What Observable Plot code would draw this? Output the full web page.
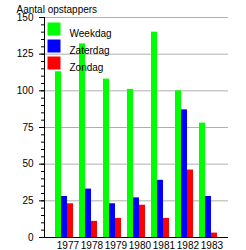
<!DOCTYPE html>
<html>
<head>
<meta charset="utf-8">
<script src="https://cdn.jsdelivr.net/npm/d3@7"></script>
<script src="https://cdn.jsdelivr.net/npm/@observablehq/plot@0.6"></script>
<style>
  body { margin: 0; background: white; }
</style>
</head>
<body>
<div id="chart"></div>
<script>
const years = ["1977", "1978", "1979", "1980", "1981", "1982", "1983"];
const series = ["Weekdag", "Zaterdag", "Zondag"];
const colors = ["#00ff00", "#0000ff", "#ff0000"];
const weekdag = [113, 132, 108, 101, 140, 100, 78];
const zaterdag = [28, 33, 23, 27, 39, 87, 28];
const zondag = [23, 11, 13, 22, 13, 46, 3];
const yTicks = [0, 25, 50, 75, 100, 125, 150];
const yMinorTicks = d3.range(0, 151, 5);
const title = "Aantal opstappers";

const values = [weekdag, zaterdag, zondag];
const rows = [];
years.forEach((yr, i) => series.forEach((s, j) => rows.push({year: yr, series: s, value: values[j][i]})));

// 4 slots per year (3 bars + gap); the last gap is cut off
const xDomain = years.flatMap(yr => [...series.map(s => yr + "|" + s), yr + "|"]).slice(0, -1);

const chart = Plot.plot({
  width: 246,
  height: 250,
  marginLeft: 44,
  marginRight: 18,
  marginTop: 17,
  marginBottom: 13,
  style: {fontFamily: "'Liberation Sans', Arial, sans-serif", fontSize: "10px", background: "white", color: "black"},
  x: {type: "band", domain: xDomain, padding: 0, insetLeft: 1, insetRight: 2, axis: null},
  y: {domain: [0, 150], axis: null},
  color: {domain: series, range: colors},
  marks: [
    Plot.gridY(yTicks.slice(1), {stroke: "#b0b0b0", strokeOpacity: 1}),
    Plot.barY(rows, {x: d => d.year + "|" + d.series, y: "value", fill: "series"}),
    Plot.ruleY([0], {stroke: "black"}),
    Plot.frame({anchor: "left", stroke: "black"}),
    Plot.axisY(yMinorTicks, {tickSize: 3, tickFormat: () => "", label: null}),
    Plot.axisY(yTicks, {tickSize: 5, tickPadding: 6, label: null}),
    Plot.axisX(years.map(yr => yr + "|Zaterdag"), {tickSize: 0, tickPadding: 4, tickFormat: d => d.split("|")[0], dx: 3.4, label: null}),
    ...series.map((s, i) => Plot.dot([s], {frameAnchor: "top-left", dx: 9.5, dy: 11.5 + i * 17, symbol: "square", r: 7.33, fill: d => d})),
    ...series.map((s, i) => Plot.text([s], {frameAnchor: "top-left", dx: 25, dy: 12.5 + i * 17, text: d => d, textAnchor: "start", fill: "black"})),
    Plot.text([title], {frameAnchor: "top-left", dx: -28, dy: -11.5, text: d => d, textAnchor: "start", fill: "black"})
  ]
});
document.getElementById("chart").appendChild(chart);
</script>
</body>
</html>
